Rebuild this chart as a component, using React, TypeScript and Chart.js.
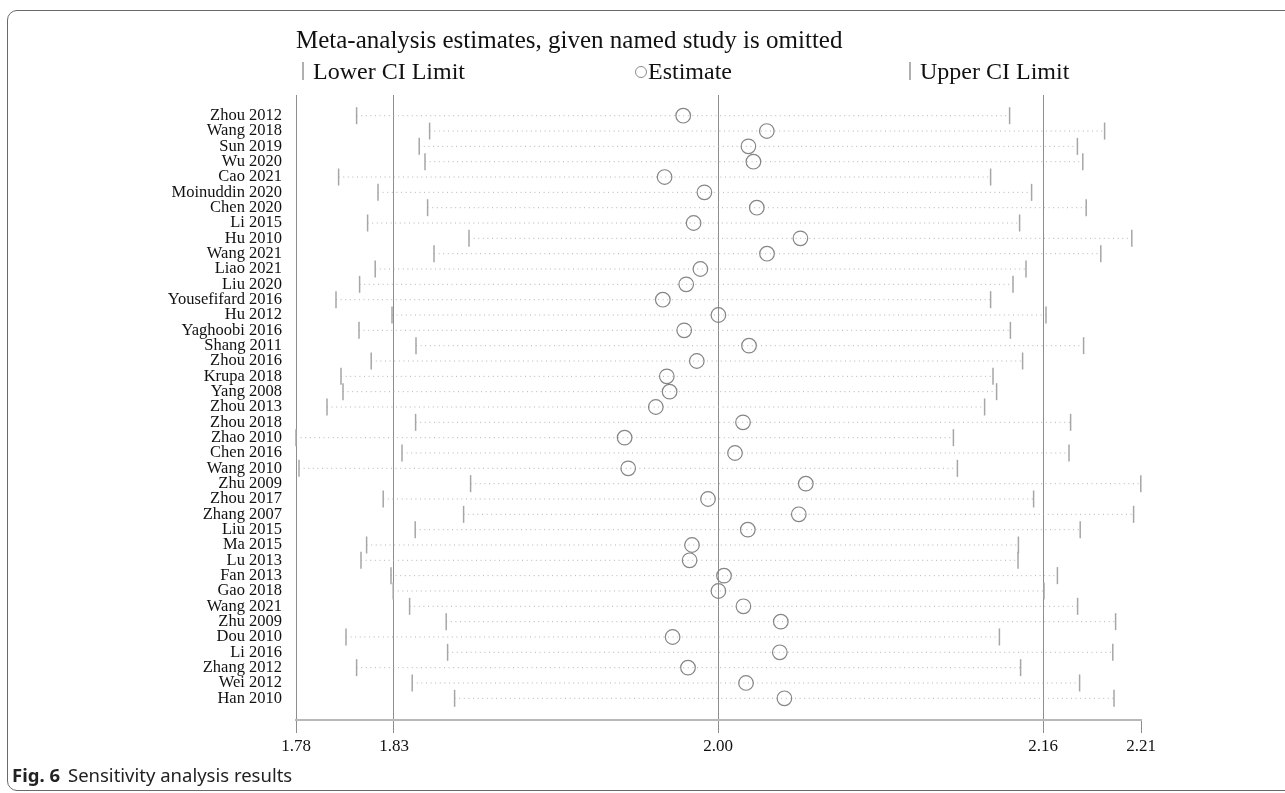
import React, { useEffect, useRef } from "react";
import { Chart, registerables } from "chart.js";

Chart.register(...registerables);

const SERIF = '"Liberation Serif", "Times New Roman", Times, serif';
const SANS = '"Noto Sans", "Open Sans", Arial, sans-serif';

const studies = [
  "Zhou 2012", "Wang 2018", "Sun 2019", "Wu 2020", "Cao 2021", "Moinuddin 2020",
  "Chen 2020", "Li 2015", "Hu 2010", "Wang 2021", "Liao 2021", "Liu 2020",
  "Yousefifard 2016", "Hu 2012", "Yaghoobi 2016", "Shang 2011", "Zhou 2016",
  "Krupa 2018", "Yang 2008", "Zhou 2013", "Zhou 2018", "Zhao 2010", "Chen 2016",
  "Wang 2010", "Zhu 2009", "Zhou 2017", "Zhang 2007", "Liu 2015", "Ma 2015",
  "Lu 2013", "Fan 2013", "Gao 2018", "Wang 2021", "Zhu 2009", "Dou 2010",
  "Li 2016", "Zhang 2012", "Wei 2012", "Han 2010",
];

const lowerCI = [
  1.8143, 1.8508, 1.8456, 1.8485, 1.8053, 1.8250,
  1.8498, 1.8198, 1.8705, 1.8530, 1.8236, 1.8158,
  1.8040, 1.8320, 1.8155, 1.8440, 1.8216,
  1.8065, 1.8075, 1.7995, 1.8438, 1.7840, 1.8370,
  1.7855, 1.8713, 1.8276, 1.8678, 1.8436, 1.8193,
  1.8165, 1.8315, 1.8326, 1.8408, 1.8591, 1.8090,
  1.8598, 1.8143, 1.8421, 1.8633,
];

const estimates = [
  1.9776, 2.0194, 2.0102, 2.0127, 1.9683, 1.9882,
  2.0144, 1.9828, 2.0362, 2.0195, 1.9862, 1.9791,
  1.9674, 1.9952, 1.9781, 2.0105, 1.9844,
  1.9694, 1.9708, 1.9639, 2.0075, 1.9483, 2.0035,
  1.9501, 2.0389, 1.9900, 2.0354, 2.0099, 1.9820,
  1.9808, 1.9980, 1.9952, 2.0077, 2.0264, 1.9723,
  2.0259, 1.9800, 2.0090, 2.0282,
];

const upperCI = [
  2.1408, 2.1883, 2.1747, 2.1774, 2.1313, 2.1518,
  2.1791, 2.1458, 2.2019, 2.1864, 2.1490, 2.1425,
  2.1313, 2.1590, 2.1412, 2.1778, 2.1473,
  2.1325, 2.1343, 2.1283, 2.1713, 2.1127, 2.1705,
  2.1147, 2.2064, 2.1528, 2.2028, 2.1761, 2.1452,
  2.1450, 2.1647, 2.1580, 2.1748, 2.1938, 2.1357,
  2.1924, 2.1463, 2.1758, 2.1930,
];

const xTickValues = [1.784, 1.833, 1.995, 2.1575, 2.2065];
const xTickLabels = ["1.78", "1.83", "2.00", "2.16", "2.21"];

const chartTitle = "Meta-analysis estimates, given named study is omitted";
const legendLabels = ["Lower CI Limit", "Estimate", "Upper CI Limit"];
const captionBold = "Fig. 6";
const captionText = "Sensitivity analysis results";

export default function App() {
  const ref = useRef<HTMLCanvasElement>(null);

  useEffect(() => {
    const rows = studies.map((_, i) => i);
    const segments: any[] = rows.flatMap((i) => [
      { x: lowerCI[i], y: i },
      { x: upperCI[i], y: i },
      { x: null, y: null },
    ]);
    const chart = new Chart(ref.current as HTMLCanvasElement, {
      type: "scatter",
      data: {
        datasets: [
          {
            label: "CI",
            data: segments,
            showLine: true,
            spanGaps: false,
            borderColor: "#b4b4b4",
            borderWidth: 1,
            borderDash: [1, 3.6],
            pointRadius: 0,
            order: 4,
            clip: false,
          } as any,
          {
            label: legendLabels[0],
            data: rows.map((i) => ({ x: lowerCI[i], y: i })),
            pointStyle: "line",
            pointRotation: 90,
            pointRadius: 8.5,
            pointBorderColor: "#a6a6a6",
            pointBorderWidth: 1.5,
            order: 2,
            clip: false,
          } as any,
          {
            label: legendLabels[2],
            data: rows.map((i) => ({ x: upperCI[i], y: i })),
            pointStyle: "line",
            pointRotation: 90,
            pointRadius: 8.5,
            pointBorderColor: "#a6a6a6",
            pointBorderWidth: 1.5,
            order: 3,
            clip: false,
          } as any,
          {
            label: legendLabels[1],
            data: rows.map((i) => ({ x: estimates[i], y: i })),
            pointStyle: "circle",
            pointRadius: 7.3,
            pointBorderColor: "#858585",
            pointBackgroundColor: "rgba(0,0,0,0)",
            pointBorderWidth: 1.2,
            order: 1,
            clip: false,
          } as any,
        ],
      },
      options: {
        responsive: false,
        animation: false,
        events: [],
        layout: { padding: { left: 0, right: 144, top: 95, bottom: 33 } },
        plugins: {
          legend: { display: false },
          tooltip: { enabled: false },
          title: { display: false },
        },
        scales: {
          x: {
            type: "linear",
            min: xTickValues[0],
            max: xTickValues[xTickValues.length - 1],
            afterBuildTicks: (s: any) => {
              s.ticks = xTickValues.map((v) => ({ value: v }));
            },
            afterFit: (s: any) => {
              s.height = 40;
            },
            ticks: {
              autoSkip: false,
              maxRotation: 0,
              minRotation: 0,
              padding: 3,
              color: "#111",
              font: { family: SERIF, size: 17 },
              callback: (_v: any, i: number) => xTickLabels[i],
            },
            grid: {
              color: (ctx: any) =>
                ctx.index === xTickValues.length - 1 ? "rgba(0,0,0,0)" : "#8e8e8e",
              tickColor: "#8e8e8e",
              lineWidth: 1,
              tickLength: 13,
              drawTicks: true,
            },
            border: { display: true, color: "#b8b8b8", width: 2 },
          },
          y: {
            type: "linear",
            reverse: true,
            min: -1.35,
            max: studies.length - 1 + 1.415,
            afterBuildTicks: (s: any) => {
              s.ticks = studies.map((_, i) => ({ value: i }));
            },
            afterFit: (s: any) => {
              s.width = 296;
            },
            ticks: {
              autoSkip: false,
              padding: 14,
              color: "#111",
              font: { family: SERIF, size: 16.5 },
              callback: (v: any) => studies[v],
            },
            grid: { display: false, drawTicks: false },
            border: { display: false },
          },
        },
      } as any,
    });
    return () => chart.destroy();
  }, []);

  const legendText: React.CSSProperties = {
    position: "absolute",
    top: 57,
    fontFamily: SERIF,
    fontSize: 24,
    lineHeight: "28px",
    color: "#111",
    whiteSpace: "nowrap",
  };

  return (
    <div
      style={{
        position: "absolute",
        left: 0,
        top: 0,
        width: 1285,
        height: 793,
        overflow: "hidden",
        background: "#fff",
      }}
    >
      <div
        style={{
          position: "absolute",
          left: 7,
          top: 10,
          width: 1320,
          height: 781,
          border: "1.5px solid #6a6a6a",
          borderRadius: 10,
          boxSizing: "border-box",
        }}
      />
      <canvas
        ref={ref}
        width={1285}
        height={793}
        style={{ position: "absolute", left: 0, top: 0, width: 1285, height: 793 }}
      />
      <div
        style={{
          position: "absolute",
          left: 296,
          top: 25,
          fontFamily: SERIF,
          fontSize: 25,
          lineHeight: "29px",
          color: "#111",
          whiteSpace: "nowrap",
        }}
      >
        {chartTitle}
      </div>
      <div style={{ position: "absolute", left: 302, top: 62, width: 1.5, height: 18, background: "#b0b0b0" }} />
      <div style={{ ...legendText, left: 313 }}>{legendLabels[0]}</div>
      <div
        style={{
          position: "absolute",
          left: 635,
          top: 66,
          width: 12,
          height: 12,
          borderRadius: "50%",
          border: "1px solid #8a8a8a",
          boxSizing: "border-box",
        }}
      />
      <div style={{ ...legendText, left: 648 }}>{legendLabels[1]}</div>
      <div style={{ position: "absolute", left: 909, top: 62, width: 1.5, height: 18, background: "#b0b0b0" }} />
      <div style={{ ...legendText, left: 920 }}>{legendLabels[2]}</div>
      <div
        style={{
          position: "absolute",
          left: 12,
          top: 763,
          fontFamily: SANS,
          fontSize: 18.5,
          lineHeight: "23px",
          color: "#222",
          whiteSpace: "nowrap",
        }}
      >
        <span style={{ fontWeight: 700 }}>{captionBold}</span>
        <span style={{ marginLeft: 8 }}>{captionText}</span>
      </div>
    </div>
  );
}
